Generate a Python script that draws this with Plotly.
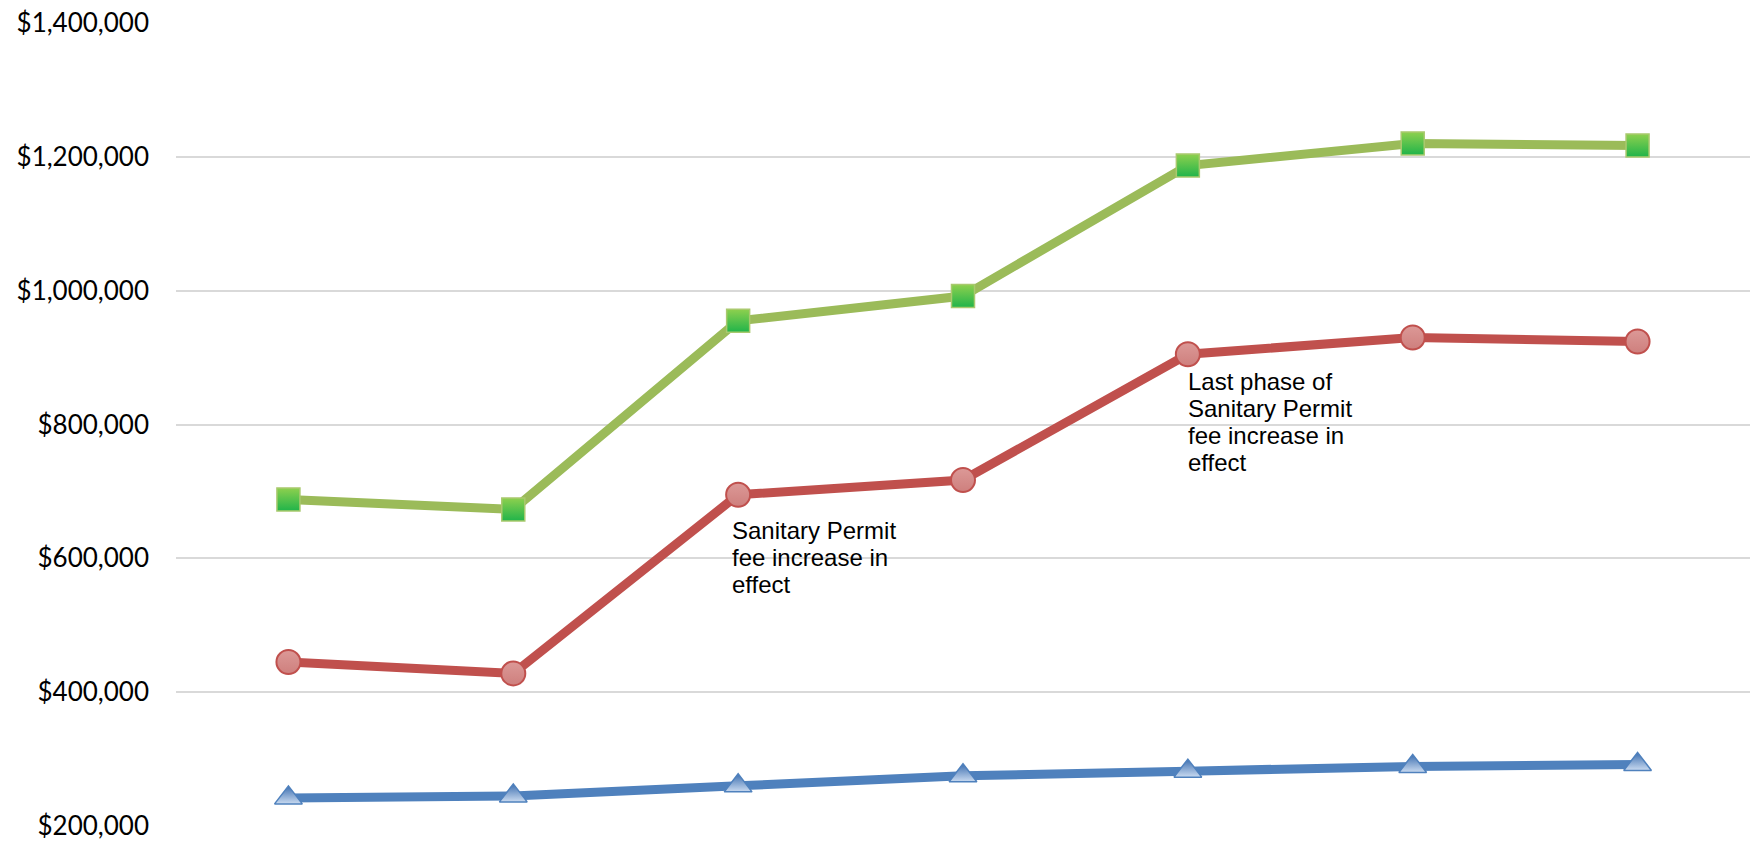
import plotly.graph_objects as go

# Seven reporting periods (no category labels are drawn on the x axis)
periods = ["P1", "P2", "P3", "P4", "P5", "P6", "P7"]

# Revenue series, in dollars
total_revenue = [688000, 673000, 955000, 992000, 1187000, 1220000, 1217000]
sanitary_permit_fees = [445000, 428000, 695000, 717000, 905000, 930000, 924000]
other_fees = [242000, 245000, 260000, 275000, 282000, 289000, 292000]

y_ticks = [200000, 400000, 600000, 800000, 1000000, 1200000, 1400000]
y_tick_labels = ["$200,000", "$400,000", "$600,000", "$800,000",
                 "$1,000,000", "$1,200,000", "$1,400,000"]

# Notes placed under a point of the Sanitary Permit series: (period index, lines)
notes = [
    (2, ["Sanitary Permit", "fee increase in", "effect"]),
    (4, ["Last phase of", "Sanitary Permit", "fee increase in", "effect"]),
]
note_offsets = {2: (36, -8), 4: (27, -2)}  # (first-line drop px, x shift px)
LINE_STEP = 27

fig = go.Figure()

fig.add_trace(go.Scatter(
    x=periods, y=other_fees, mode="lines+markers", name="Other fees",
    line=dict(color="#4F81BD", width=9),
    marker=dict(symbol="triangle-up", size=24, color="#3D6FB0",
                gradient=dict(type="vertical", color="#C9DAF0"),
                line=dict(color="#4F81BD", width=1.5)),
    cliponaxis=False,
))

fig.add_trace(go.Scatter(
    x=periods, y=sanitary_permit_fees, mode="lines+markers", name="Sanitary Permit fees",
    line=dict(color="#C0504D", width=9),
    marker=dict(symbol="circle", size=24, color="#DC9997",
                gradient=dict(type="vertical", color="#CE7F7D"),
                line=dict(color="#C0504D", width=2)),
    cliponaxis=False,
))

fig.add_trace(go.Scatter(
    x=periods, y=total_revenue, mode="lines+markers", name="Total",
    line=dict(color="#9BBB59", width=9),
    marker=dict(symbol="square", size=23, color="#8ED04E",
                gradient=dict(type="vertical", color="#20B44A"),
                line=dict(color="#A9C96E", width=1.5)),
    cliponaxis=False,
))

for xi, lines in notes:
    drop, dx = note_offsets[xi]
    for i, txt in enumerate(lines):
        fig.add_annotation(
            x=periods[xi], y=sanitary_permit_fees[xi], text=txt, showarrow=False,
            xanchor="left", yanchor="middle", align="left",
            xshift=dx, yshift=-(drop + i * LINE_STEP),
            font=dict(family="Liberation Sans, Arial, sans-serif", size=24, color="#000000"),
        )

fig.update_layout(
    width=1752, height=843,
    margin=dict(l=176, r=2, t=23, b=15),
    paper_bgcolor="white", plot_bgcolor="white",
    showlegend=False,
    xaxis=dict(type="category", range=[-0.5, 6.5], showticklabels=False,
               showgrid=False, zeroline=False, showline=False, ticks=""),
    yaxis=dict(range=[200000, 1400000], tickvals=y_ticks, ticktext=y_tick_labels,
               showgrid=True, gridcolor="#D9D9D9", gridwidth=2, zeroline=False,
               showline=False, ticks="", ticklabelstandoff=26,
               ticklabeloverflow="allow",
               tickfont=dict(family="Lato, Open Sans, sans-serif", size=26, color="#000000")),
)

fig.write_html("out.html")
